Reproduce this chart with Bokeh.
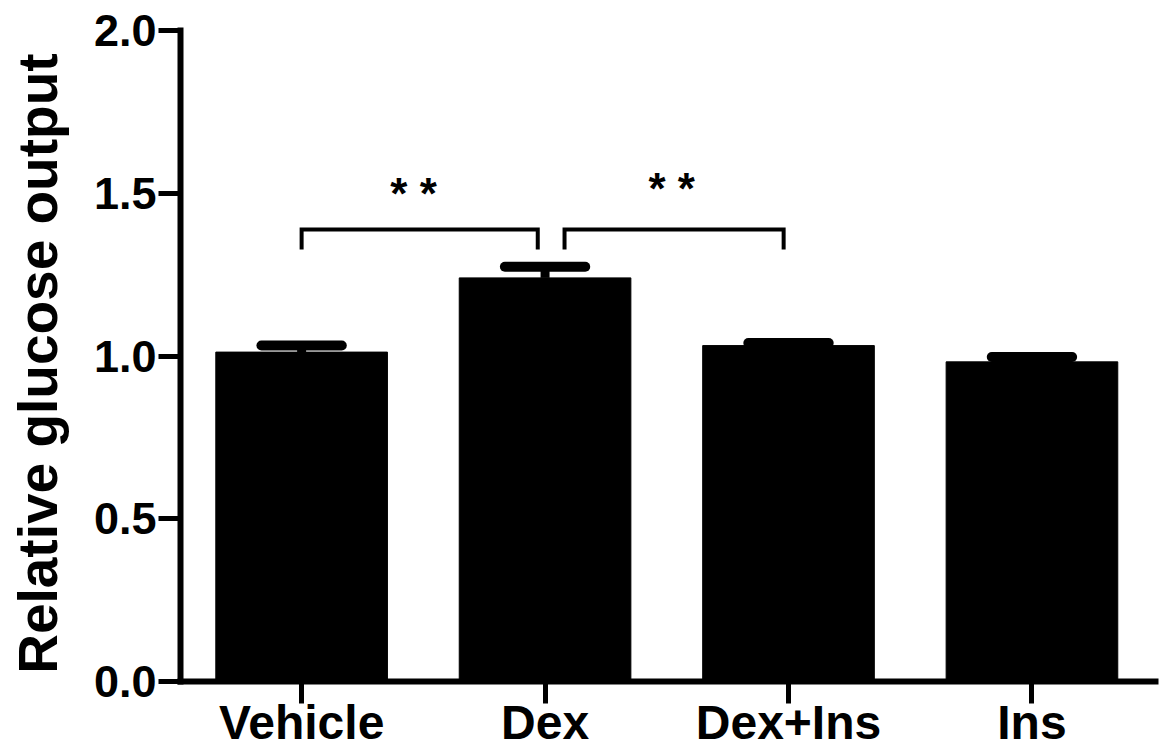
from bokeh.plotting import figure
from bokeh.models import Range1d, FixedTicker, PrintfTickFormatter, ColumnDataSource
from bokeh.core.properties import value
from bokeh.embed import file_html
from bokeh.resources import INLINE

# ---- data ----
categories = ["Vehicle", "Dex", "Dex+Ins", "Ins"]
means = [1.012, 1.240, 1.032, 0.982]
sem = [0.020, 0.034, 0.008, 0.015]
y_ticks = [0.0, 0.5, 1.0, 1.5, 2.0]
y_label = "Relative glucose output"

# significance annotations: (start index, end index, label)
sig_pairs = [(0.0, 0.97, "* *"), (1.08, 1.98, "* *")]
sig_text_x = [0.46, 1.52]
sig_text_y = [1.498, 1.516]
bracket_y = 1.389
bracket_leg = 0.062

FONT = "Liberation Sans"

xs = list(range(len(categories)))
p = figure(width=1162, height=751, output_backend="svg", toolbar_location=None,
           x_range=Range1d(-0.4975, 3.5075), y_range=Range1d(0, 2.0),
           min_border_left=180, min_border_right=7, min_border_top=30,
           background_fill_color="white", border_fill_color="white")
p.outline_line_color = None
p.grid.visible = False

src = ColumnDataSource(dict(x=xs, top=means,
                            up=[m + s for m, s in zip(means, sem)]))
p.vbar(x="x", top="top", bottom=0, width=0.705, source=src,
       fill_color="black", line_color="black", line_width=1)
# error stems
p.segment(x0="x", y0="top", x1="x", y1="up", source=src,
          line_color="black", line_width=9)
# error caps
src_cap = ColumnDataSource(dict(x0=[x - 0.165 for x in xs], x1=[x + 0.165 for x in xs],
                                y=[m + s for m, s in zip(means, sem)]))
p.segment(x0="x0", y0="y", x1="x1", y1="y", source=src_cap,
          line_color="black", line_width=10, line_cap="round")

# brackets
bx, by = [], []
for a, b, _ in sig_pairs:
    bx.append([a, a, b, b])
    by.append([bracket_y - bracket_leg, bracket_y, bracket_y, bracket_y - bracket_leg])
p.multi_line(xs=bx, ys=by, line_color="black", line_width=4, line_join="miter")
p.text(x=sig_text_x, y=sig_text_y, text=[t for _, _, t in sig_pairs],
       text_font=value(FONT), text_font_style="bold", text_font_size="44px",
       text_align="center", text_baseline="alphabetic", text_color="black")

# axes
xa = p.xaxis[0]
xa.ticker = FixedTicker(ticks=xs)
xa.major_label_overrides = {i: c for i, c in enumerate(categories)}
xa.minor_tick_line_color = None
xa.major_tick_out = 22
xa.major_tick_in = 0
xa.major_tick_line_width = 5
xa.axis_line_width = 6
xa.axis_line_cap = "square"
xa.major_label_text_font = FONT
xa.major_label_text_font_style = "bold"
xa.major_label_text_font_size = "48px"
xa.major_label_text_color = "black"
xa.major_label_standoff = -8

ya = p.yaxis[0]
ya.ticker = FixedTicker(ticks=y_ticks)
ya.formatter = PrintfTickFormatter(format="%.1f")
ya.minor_tick_line_color = None
ya.major_tick_out = 22
ya.major_tick_in = 0
ya.major_tick_line_width = 5
ya.axis_line_width = 6
ya.axis_line_cap = "square"
ya.major_label_text_font = FONT
ya.major_label_text_font_style = "bold"
ya.major_label_text_font_size = "45px"
ya.major_label_text_color = "black"
ya.major_label_standoff = 2
ya.axis_label = y_label + " "
ya.axis_label_text_font = FONT
ya.axis_label_text_font_style = "bold"
ya.axis_label_text_font_size = "55px"
ya.axis_label_text_color = "black"
ya.axis_label_standoff = 22

open("out.html", "w").write(file_html(p, INLINE))
